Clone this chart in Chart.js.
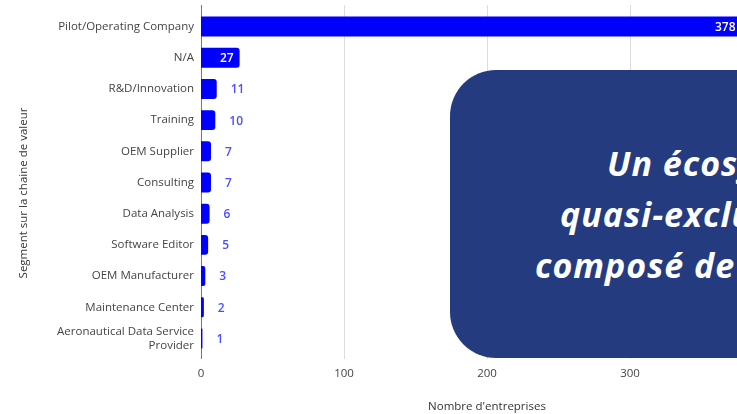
<!DOCTYPE html>
<html lang="fr">
<head>
<meta charset="utf-8">
<script src="https://cdn.jsdelivr.net/npm/chart.js@4"></script>
<style>
  html, body { margin: 0; padding: 0; background: #fff; }
  body { width: 737px; height: 414px; overflow: hidden; position: relative; }
  .wrap { position: absolute; left: 0; top: 0; width: 800px; height: 414px; }
  .callout {
    position: absolute; left: 450px; top: 70px; width: 400px; height: 288px;
    background: #243c7f; border-radius: 46px; overflow: hidden;
  }
  .callout span {
    position: absolute; white-space: nowrap; color: #fff;
    font: italic 700 34px "Open Sans", sans-serif; line-height: 1; letter-spacing: 1px;
  }
</style>
</head>
<body>
<div class="wrap"><canvas id="chart"></canvas></div>
<div class="callout">
  <span style="left: 157px; top: 76px;">Un écosystème</span>
  <span style="left: 110px; top: 127px;">quasi-exclusivement</span>
  <span style="left: 85px; top: 178px;">composé de</span>
</div>
<script>
const segments = [
  "Pilot/Operating Company",
  "N/A",
  "R&D/Innovation",
  "Training",
  "OEM Supplier",
  "Consulting",
  "Data Analysis",
  "Software Editor",
  "OEM Manufacturer",
  "Maintenance Center",
  ["Aeronautical Data Service", "Provider"]
];
const companies = [378, 27, 11, 10, 7, 7, 6, 5, 3, 2, 1];
const xTicks = [0, 100, 200, 300, 400];
const yTitle = "Segment sur la chaine de valeur";

const font = "'Open Sans', sans-serif";

// vertical grid lines run a few px past the plot area, like the original
const gridLines = {
  id: "gridLines",
  beforeDatasetsDraw(chart) {
    const { ctx, chartArea, scales } = chart;
    ctx.save();
    ctx.lineWidth = 1;
    xTicks.forEach((tick) => {
      const x = Math.round(scales.x.getPixelForValue(tick)) + 0.5;
      ctx.strokeStyle = tick === 0 ? "#777" : "#dcdcdc";
      ctx.beginPath();
      ctx.moveTo(x, chartArea.top - 6);
      ctx.lineTo(x, chartArea.bottom + 5);
      ctx.stroke();
    });
    ctx.restore();
  },
  afterDraw(chart) {
    const ctx = chart.ctx;
    ctx.save();
    ctx.translate(24, 193);
    ctx.rotate(-Math.PI / 2);
    ctx.font = `11.5px ${font}`;
    ctx.fillStyle = "#333";
    ctx.textAlign = "center";
    ctx.textBaseline = "middle";
    ctx.fillText(yTitle, 0, 0);
    ctx.restore();
  }
};

// draws the value next to / inside each bar
const valueLabels = {
  id: "valueLabels",
  afterDatasetsDraw(chart) {
    const ctx = chart.ctx;
    const meta = chart.getDatasetMeta(0);
    ctx.save();
    ctx.textBaseline = "middle";
    meta.data.forEach((bar, i) => {
      const text = String(companies[i]);
      ctx.font = `600 12px ${font}`;
      const w = ctx.measureText(text).width;
      if (bar.x - bar.base > w + 10) {
        ctx.fillStyle = "#ffffff";
        ctx.textAlign = "right";
        ctx.fillText(text, bar.x - 6, bar.y + 1);
      } else {
        ctx.fillStyle = "#4d4dff";
        ctx.textAlign = "left";
        ctx.fillText(text, bar.x + 14, bar.y + 1);
      }
    });
    ctx.restore();
  }
};

new Chart(document.querySelector("#chart"), {
  type: "bar",
  data: {
    labels: segments,
    datasets: [
      {
        data: companies,
        backgroundColor: "#0000ff",
        borderRadius: { topRight: 3, bottomRight: 3 },
        borderSkipped: "start",
        categoryPercentage: 0.8,
        barPercentage: 0.8
      }
    ]
  },
  options: {
    indexAxis: "y",
    responsive: true,
    maintainAspectRatio: false,
    animation: false,
    layout: { padding: { top: 11, right: 27, left: 0, bottom: 0 } },
    plugins: {
      legend: { display: false },
      tooltip: { enabled: false }
    },
    scales: {
      x: {
        min: 0,
        max: 400,
        afterFit: (scale) => { scale.height = 60; },
        afterBuildTicks: (scale) => { scale.ticks = xTicks.map((value) => ({ value })); },
        ticks: { color: "#444", font: { family: font, size: 11.5 }, padding: 13 },
        grid: { display: false, drawTicks: false },
        border: { display: false },
        title: {
          display: true,
          text: "Nombre d'entreprises",
          color: "#333",
          font: { family: font, size: 11.5 },
          padding: { top: 1, bottom: 0 }
        }
      },
      y: {
        afterFit: (scale) => {
          scale.width = 201;
          scale.paddingTop = 0;
          scale.paddingBottom = 0;
        },
        ticks: { color: "#444", font: { family: font, size: 11.5 }, padding: 7, autoSkip: false },
        grid: { display: false, drawTicks: false },
        border: { display: false }
      }
    }
  },
  plugins: [gridLines, valueLabels]
});
</script>
</body>
</html>
